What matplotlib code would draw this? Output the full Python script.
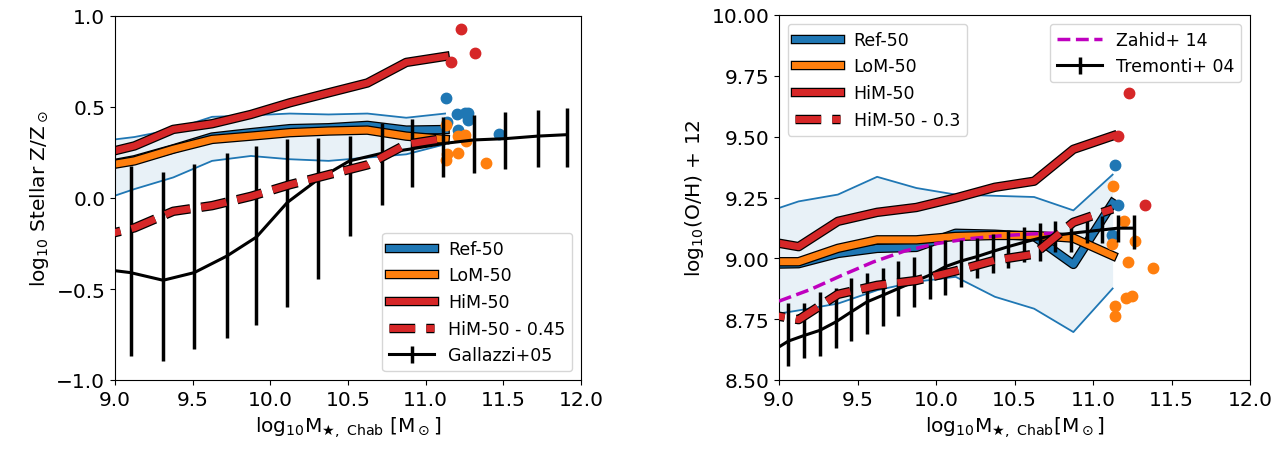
import matplotlib
matplotlib.use("Agg")
import matplotlib.pyplot as plt
import matplotlib.patheffects as pe
import numpy as np

plt.rcParams['font.size'] = 14.5
plt.rcParams['legend.fontsize'] = 12.5
plt.rcParams['legend.handlelength'] = 2.6

###------------------- data: stellar metallicity (left) -------------------###
mbins = [8.875, 9.125, 9.375, 9.625, 9.875, 10.125, 10.375, 10.625, 10.875, 11.125]

zs_ref = [0.17, 0.21, 0.27, 0.335, 0.359, 0.381, 0.386, 0.399, 0.373, 0.376]
zs_ref_hi = [0.309, 0.335, 0.377, 0.446, 0.454, 0.464, 0.459, 0.464, 0.441, 0.464]
zs_ref_lo = [-0.023, 0.049, 0.113, 0.204, 0.231, 0.213, 0.204, 0.222, 0.24, 0.295]
zs_lom = [0.168, 0.204, 0.268, 0.322, 0.34, 0.359, 0.368, 0.373, 0.34, 0.322]
zs_him = [0.234, 0.286, 0.377, 0.408, 0.459, 0.523, 0.578, 0.632, 0.745, 0.778]
zs_shift = 0.45

# individual galaxies beyond the last bin
zs_ref_px = [11.13, 11.2, 11.25, 11.27, 11.27, 11.14, 11.21, 11.47]
zs_ref_py = [0.55, 0.464, 0.468, 0.468, 0.43, 0.417, 0.373, 0.353]
zs_lom_px = [11.13, 11.25, 11.21, 11.26, 11.14, 11.21, 11.13, 11.39]
zs_lom_py = [0.40, 0.344, 0.34, 0.313, 0.24, 0.25, 0.209, 0.195]
zs_him_px = [11.16, 11.23, 11.32]
zs_him_py = [0.75, 0.927, 0.796]

gal_m = [8.91, 9.10, 9.31, 9.51, 9.72, 9.91, 10.11, 10.31, 10.51, 10.72, 10.91, 11.11, 11.31, 11.51, 11.72, 11.91]
gal_z = [-0.39, -0.41, -0.452, -0.41, -0.319, -0.215, -0.024, 0.104, 0.204, 0.246, 0.27, 0.299, 0.319, 0.326, 0.34, 0.348]
gal_lo = [-0.9, -0.87, -0.898, -0.829, -0.77, -0.698, -0.597, -0.446, -0.21, -0.038, 0.058, 0.113, 0.14, 0.158, 0.173, 0.173]
gal_hi = [0.15, 0.177, 0.144, 0.186, 0.246, 0.286, 0.322, 0.331, 0.338, 0.413, 0.435, 0.446, 0.454, 0.474, 0.486, 0.495]

###------------------- data: gas metallicity (right) ----------------------###
oh_ref = [8.975, 8.978, 9.02, 9.041, 9.045, 9.103, 9.099, 9.09, 8.975, 9.227]
oh_ref_hi = [9.18, 9.234, 9.262, 9.335, 9.289, 9.262, 9.257, 9.252, 9.197, 9.344]
oh_ref_lo = [8.76, 8.786, 8.814, 8.869, 8.904, 8.924, 8.842, 8.793, 8.697, 8.876]
oh_lom = [8.986, 8.986, 9.041, 9.076, 9.076, 9.09, 9.094, 9.094, 9.083, 9.011]
oh_him = [9.076, 9.048, 9.152, 9.189, 9.209, 9.248, 9.292, 9.317, 9.448, 9.503]
oh_shift = 0.3

oh_ref_px = [11.14, 11.16, 11.12]
oh_ref_py = [9.383, 9.22, 9.096]
oh_lom_px = [11.13, 11.2, 11.27, 11.12, 11.22, 11.38, 11.25, 11.21, 11.14, 11.14]
oh_lom_py = [9.296, 9.154, 9.073, 9.06, 8.986, 8.959, 8.846, 8.838, 8.805, 8.762]
oh_him_px = [11.16, 11.23, 11.33]
oh_him_py = [9.503, 9.679, 9.22]

zah_m = [9.0, 9.2, 9.4, 9.6, 9.8, 10.0, 10.2, 10.4, 10.6, 10.8]
zah_oh = [8.824, 8.872, 8.93, 8.985, 9.03, 9.06, 9.08, 9.092, 9.10, 9.105]

tre_m = [8.96, 9.06, 9.16, 9.26, 9.36, 9.46, 9.56, 9.66, 9.76, 9.86, 9.96, 10.06,
         10.16, 10.26, 10.36, 10.46, 10.56, 10.66, 10.76, 10.86, 10.96, 11.06, 11.16, 11.26]
tre_oh = [8.62, 8.66, 8.683, 8.704, 8.738, 8.78, 8.821, 8.848, 8.876, 8.904, 8.931, 8.966,
          8.989, 9.007, 9.028, 9.048, 9.066, 9.083, 9.094, 9.103, 9.11, 9.117, 9.124, 9.124]
tre_hi = [8.79, 8.818, 8.818, 8.86, 8.879, 8.92, 8.938, 8.959, 8.989, 9.007, 9.055, 9.076,
          9.076, 9.083, 9.099, 9.117, 9.127, 9.145, 9.152, 9.159, 9.165, 9.172, 9.179, 9.179]
tre_lo = [8.53, 8.559, 8.59, 8.60, 8.631, 8.66, 8.69, 8.722, 8.762, 8.80, 8.832, 8.851,
          8.883, 8.92, 8.941, 8.961, 8.986, 8.989, 9.028, 9.028, 9.062, 9.062, 9.069, 9.038]


###------------------------- plotting helpers ----------------------------###
fx = [pe.Stroke(linewidth=6.8, foreground='k'), pe.Normal()]

def plotModels(ax, ref, ref_lo, ref_hi, lom, him, shift, rp, lp, hp, shiftlabel):
	ax.fill_between(mbins, ref_lo, ref_hi, color='C0', alpha=0.1, lw=0)
	ax.plot(mbins, ref_hi, color='C0', lw=1.3)
	ax.plot(mbins, ref_lo, color='C0', lw=1.3)
	ax.plot(mbins, ref, color='C0', lw=5, path_effects=fx, label='Ref-50')
	ax.plot(mbins, lom, color='C1', lw=5, path_effects=fx, label='LoM-50')
	ax.plot(mbins, him, color='C3', lw=5, path_effects=fx, label='HiM-50')
	ax.plot(rp[0], rp[1], 'o', color='C0', ms=7.5, ls='none')
	ax.plot(lp[0], lp[1], 'o', color='C1', ms=7.5, ls='none')
	ax.plot(hp[0], hp[1], 'o', color='C3', ms=7.5, ls='none')
	lshift, = ax.plot(mbins, np.array(him) - shift, color='C3', lw=5, ls='--',
	                  path_effects=fx, label=shiftlabel, zorder=5)
	return lshift

def errs(med, lo, hi):
	med = np.array(med)
	return [med - np.array(lo), np.array(hi) - med]


fig = plt.figure(figsize=(12.77, 4.52), dpi=100)
ax1 = fig.add_axes([115/1277, 1-381/452, 466/1277, 364/452])
ax2 = fig.add_axes([779/1277, 1-381/452, 471/1277, 365/452])

# left: stellar metallicity
plotModels(ax1, zs_ref, zs_ref_lo, zs_ref_hi, zs_lom, zs_him, zs_shift,
           (zs_ref_px, zs_ref_py), (zs_lom_px, zs_lom_py), (zs_him_px, zs_him_py),
           'HiM-50 - 0.45')
ax1.errorbar(gal_m, gal_z, yerr=errs(gal_z, gal_lo, gal_hi), color='k', lw=2.2,
             elinewidth=2.5, capsize=0, label='Gallazzi+05', zorder=4)
ax1.set_xlim(9.0, 12.0)
ax1.set_ylim(-1.0, 1.0)
ax1.set_xticks([9.0, 9.5, 10.0, 10.5, 11.0, 11.5, 12.0])
ax1.set_yticks([-1.0, -0.5, 0.0, 0.5, 1.0])
ax1.set_xlabel(r'$\mathrm{log_{10}M_{\bigstar,\ Chab}\ [M_\odot]}$')
ax1.set_ylabel(r'$\mathrm{log_{10}}$ Stellar Z/Z$_\odot$')
ax1.legend(loc='lower right')

# right: gas-phase metallicity
plotModels(ax2, oh_ref, oh_ref_lo, oh_ref_hi, oh_lom, oh_him, oh_shift,
           (oh_ref_px, oh_ref_py), (oh_lom_px, oh_lom_py), (oh_him_px, oh_him_py),
           'HiM-50 - 0.3')
leg1 = ax2.legend(loc='upper left')
lz, = ax2.plot(zah_m, zah_oh, color='m', lw=2.5, ls='--', label='Zahid+ 14', zorder=4)
lt = ax2.errorbar(tre_m, tre_oh, yerr=errs(tre_oh, tre_lo, tre_hi), color='k', lw=2.2,
                  elinewidth=2.5, capsize=0, label='Tremonti+ 04', zorder=4)
ax2.legend(handles=[lz, lt], loc='upper right')
ax2.add_artist(leg1)
ax2.set_xlim(9.0, 12.0)
ax2.set_ylim(8.5, 10.0)
ax2.set_xticks([9.0, 9.5, 10.0, 10.5, 11.0, 11.5, 12.0])
ax2.set_yticks([8.5, 8.75, 9.0, 9.25, 9.5, 9.75, 10.0])
ax2.set_xlabel(r'$\mathrm{log_{10}M_{\bigstar,\ Chab}[M_\odot]}$')
ax2.set_ylabel(r'$\mathrm{log_{10}}$(O/H) + 12')

fig.savefig('out.png', dpi=100)
